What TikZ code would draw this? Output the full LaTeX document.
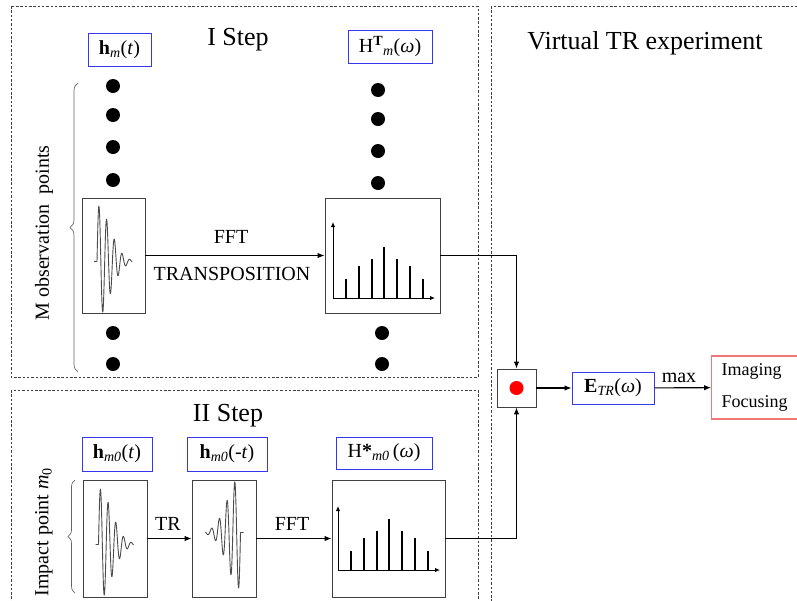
\documentclass[tikz,border=0pt]{standalone}
\usepackage{fontspec}
\setmainfont{Liberation Serif}
\usetikzlibrary{arrows.meta,decorations.pathreplacing}
\definecolor{bl}{RGB}{55,55,235}
\definecolor{pk}{RGB}{240,120,120}
\newcommand\mywave[3]{%
  \begin{scope}[shift={(#1,#2)},rotate=#3]
    \draw[wavestyle] (-19.5,6) -- (-16.5,6) -- plot[samples=220,domain=0:35]
      ({-16.5+\x},{6-56*exp(-(\x*\x)/324)*sin(360*\x/7.7)});
  \end{scope}}
\newcommand\myspec[3]{%
  \draw[axisstyle] (#1,#2) -- (#1,#2-#3);
  \draw[axisstyle] (#1,#2) -- (#1+102,#2);
  \foreach \k/\hh in {0/19,1/32,2/39,3/51,4/39,5/32,6/19}
    \draw[barstyle] ({#1+13+12.8*\k},#2) -- ++(0,-\hh);}
\begin{document}
\begin{tikzpicture}[x=1pt,y=-1pt,
  panel/.style={draw=black!75,dash pattern=on 2.5pt off 1.8pt,line width=0.7pt},
  lblbox/.style={draw=bl,line width=1pt,inner sep=0pt,font=\fontsize{20}{24}\selectfont},
  fig/.style={draw=black!75,line width=0.9pt,inner sep=0pt},
  conn/.style={line width=1.1pt,-{Latex[length=7pt,width=5.5pt]}},
  wavestyle/.style={draw=black!70,line width=0.9pt,line join=round},
  axisstyle/.style={line width=1pt,-{Latex[length=5pt,width=4.5pt]}},
  barstyle/.style={line width=2pt},
  ttl/.style={font=\fontsize{26}{30}\selectfont,anchor=base,inner sep=0pt},
  txt/.style={font=\fontsize{20}{24}\selectfont,anchor=base,inner sep=0pt},
  bracestyle/.style={draw=black!60,line width=0.7pt,decorate},
]
\useasboundingbox (0,0) rectangle (797,600);
\clip (0,0) rectangle (797,600);

% panels
\draw[panel] (11,6) rectangle (478,377);
\draw[panel] (11,390) rectangle (478,620);
\draw[panel] (491,6) rectangle (830,620);

% titles
\node[ttl] (t1) at (238,45) {I Step};
\node[ttl] (t2) at (228,421) {II Step};
\node[ttl] (t3) at (645,49) {Virtual TR experiment};

% label boxes
\node[lblbox,minimum width=63pt,minimum height=33pt] (hm) at (119.5,49.5)
  {\textbf{h}\textsubscript{\textit{m}}(\textit{t})};
\node[lblbox,minimum width=84pt,minimum height=33pt] (HTm) at (390,46.5)
  {H\textsuperscript{\textbf{T}}\textsubscript{\textit{m}}(\textit{ω})};
\node[lblbox,minimum width=70pt,minimum height=34pt] (hm0) at (117,454)
  {\textbf{h}\textsubscript{\textit{m0}}(\textit{t})};
\node[lblbox,minimum width=80pt,minimum height=34pt] (hm0r) at (227,454)
  {\textbf{h}\textsubscript{\textit{m0}}(-\textit{t})};
\node[lblbox,minimum width=96pt,minimum height=32pt] (Hst) at (384,453)
  {H\textbf{*}\textsubscript{\textit{m0}}\,(\textit{ω})};
\node[lblbox,minimum width=82pt,minimum height=32pt] (etr) at (613,388)
  {\textbf{E}\textsubscript{\textit{TR}}(\textit{ω})};
\node[draw=pk,line width=1.2pt,minimum width=94pt,minimum height=63pt,anchor=west,
  inner xsep=10pt,text width=74pt,align=left,font=\fontsize{18}{32}\selectfont] (img) at (711,387.5)
  {Imaging\\Focusing};

% dots
\foreach \yy in {86,115,147,180,333,364} \fill (113,\yy) circle (7pt);
\foreach \yy in {90,119,151,183} \fill (378,\yy) circle (7pt);
\foreach \yy in {333,364} \fill (382,\yy) circle (7pt);

% figure boxes
\node[fig,minimum width=63pt,minimum height=115pt] (s1) at (113.5,255.5) {};
\node[fig,minimum width=115pt,minimum height=115pt] (sp1) at (382.5,255.5) {};
\node[fig,minimum width=64pt,minimum height=117pt] (s2) at (115,538.5) {};
\node[fig,minimum width=64pt,minimum height=117pt] (s3) at (224,538.5) {};
\node[fig,minimum width=113pt,minimum height=117pt] (sp2) at (388.5,538.5) {};
\node[fig,minimum width=39pt,minimum height=38pt] (rd) at (516.5,388) {};
\fill[red] (rd.center) circle (7pt);

% waves and spectra
\mywave{113.5}{255.5}{0}
\mywave{115}{538.5}{0}
\mywave{224}{538.5}{180}
\myspec{333}{298}{76}
\myspec{338}{570}{64}

% connectors
\draw[conn] (s1) -- (sp1);
\draw[conn] (sp1.east) -| (rd.north);
\draw[conn] (sp2.east) -| (rd.south);
\draw[conn] (s2) -- (s3);
\draw[conn] (s3) -- (sp2);
\draw[conn] (rd) -- (etr);
\draw[conn] (etr) -- (img);

% connector labels
\node[txt] (fft1) at (231,243) {FFT};
\node[txt] (trp) at (232,280) {TRANSPOSITION};
\node[txt] (trl) at (168,530) {TR};
\node[txt] (fft2) at (292,530) {FFT};
\node[txt] (mx) at (679,382) {max};

% braces
\draw[bracestyle,decoration={brace,amplitude=8pt}] (78,372) -- (78,83);
\draw[bracestyle,decoration={brace,amplitude=7pt}] (75,593) -- (75,480);
\node[rotate=90,font=\fontsize{20}{24}\selectfont,inner sep=0pt] (mobs) at (44,233) {M observation\ \ points};
\node[rotate=90,font=\fontsize{20}{24}\selectfont,inner sep=0pt] (imp) at (44,532) {Impact point \textit{m}\textsubscript{0}};
\end{tikzpicture}
\end{document}
